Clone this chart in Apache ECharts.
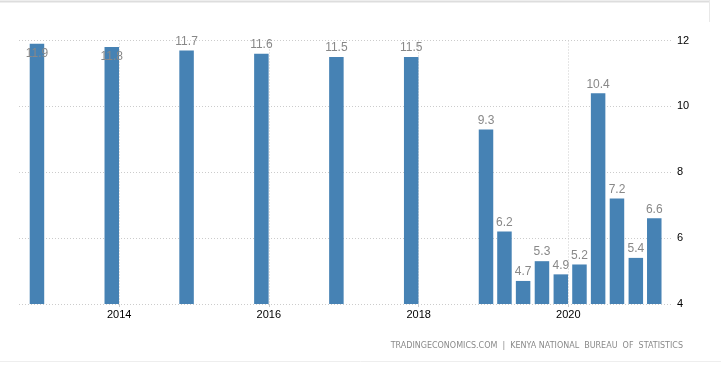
<!DOCTYPE html>
<html>
<head>
<meta charset="utf-8">
<script src="https://cdn.jsdelivr.net/npm/echarts@6/dist/echarts.min.js"></script>
<style>
  html, body { margin: 0; padding: 0; background: #fff; }
  #chart { width: 721px; height: 366px; }
</style>
</head>
<body>
<div id="chart"></div>
<script>
// Period end dates (annual values, then quarterly values)
const periods = [
  '2012-12-31', '2013-12-31', '2014-12-31', '2015-12-31', '2016-12-31', '2017-12-31',
  '2018-12-31', '2019-03-31', '2019-06-30', '2019-09-30', '2019-12-31',
  '2020-03-31', '2020-06-30', '2020-09-30', '2020-12-31', '2021-03-31'
];
const values = [11.9, 11.8, 11.7, 11.6, 11.5, 11.5, 9.3, 6.2, 4.7, 5.3, 4.9, 5.2, 10.4, 7.2, 5.4, 6.6];
const xTickLabels = ['2014', '2016', '2018', '2020'];
const yTicks = [4, 6, 8, 10, 12];
const sourceText = 'TRADINGECONOMICS.COM  |  KENYA NATIONAL  BUREAU  OF  STATISTICS';

const xTickValues = xTickLabels.map(y => Date.UTC(+y, 0, 1));

const barData = periods.map((d, i) => {
  const item = { value: [Date.parse(d + 'T00:00:00Z'), values[i]] };
  if (i < 2) {
    item.label = { position: 'insideTop', distance: 4 };
  }
  return item;
});

const chart = echarts.init(document.getElementById('chart'), null, { renderer: 'canvas' });
chart.setOption({
  animation: false,
  backgroundColor: '#fff',
  grid: { left: 19, right: 48, top: 40.5, bottom: 62, containLabel: false },
  xAxis: {
    type: 'value',
    min: Date.UTC(2012, 7, 30),
    max: Date.UTC(2021, 4, 26),
    axisLine: { show: false },
    axisTick: { show: true, length: 3, lineStyle: { color: '#cccccc' }, customValues: xTickValues },
    axisLabel: {
      customValues: xTickValues,
      formatter: v => String(new Date(v).getUTCFullYear()),
      color: '#000', fontSize: 11, fontFamily: 'Liberation Sans, Arial, sans-serif', margin: 5
    },
    splitLine: { show: true, lineStyle: { color: '#cccccc', type: [1, 2], width: 1 } }
  },
  yAxis: {
    type: 'value',
    position: 'right',
    min: yTicks[0],
    max: yTicks[yTicks.length - 1],
    interval: 2,
    axisLine: { show: false },
    axisTick: { show: false },
    axisLabel: { color: '#000', fontSize: 11, fontFamily: 'Liberation Sans, Arial, sans-serif', margin: 4 },
    splitLine: { show: true, lineStyle: { color: '#cccccc', type: [1, 2], width: 1 } }
  },
  series: [
    {
      type: 'bar',
      data: barData,
      barWidth: 14.5,
      barGap: '0%',
      itemStyle: { color: '#4682b4' },
      label: {
        show: true,
        position: 'top',
        distance: 3,
        color: '#888888',
        fontSize: 12,
        fontFamily: 'Liberation Sans, Arial, sans-serif',
        formatter: p => p.value[1].toFixed(1)
      }
    },
    {
      type: 'bar',
      data: [],
      barWidth: 14.5,
      barGap: '0%'
    }
  ],
  graphic: [
    { type: 'line', shape: { x1: 0, y1: 1.5, x2: 709, y2: 1.5 }, style: { stroke: '#dddddd', lineWidth: 2 }, silent: true },
    { type: 'line', shape: { x1: 709.5, y1: 0, x2: 709.5, y2: 22 }, style: { stroke: '#e8e8e8', lineWidth: 1 }, silent: true },
    { type: 'line', shape: { x1: 0, y1: 361.5, x2: 721, y2: 361.5 }, style: { stroke: '#eeeeee', lineWidth: 1 }, silent: true },
    {
      type: 'text', right: 38, top: 342,
      style: { text: sourceText, fill: '#8a8a8a', font: '8px "DejaVu Sans", sans-serif' },
      silent: true
    }
  ]
});
</script>
</body>
</html>
